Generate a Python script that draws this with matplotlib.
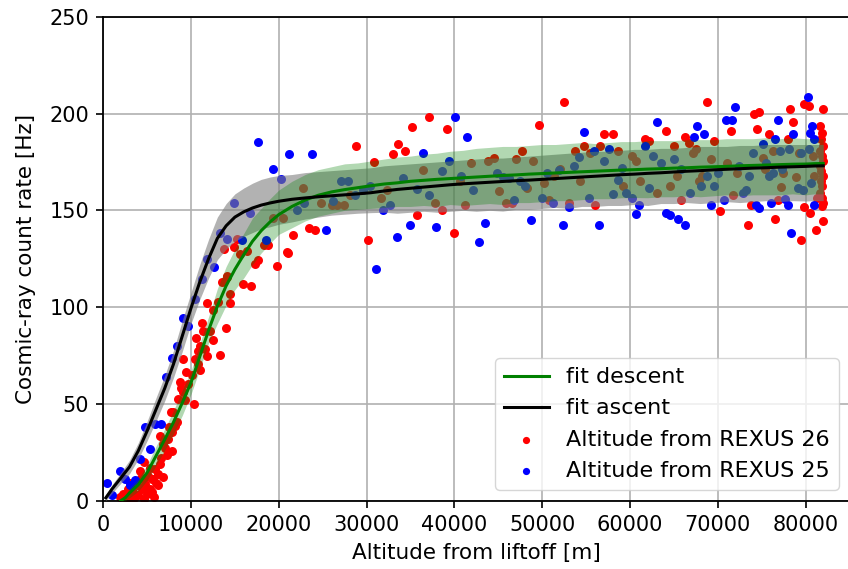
import matplotlib
matplotlib.use("Agg")
import matplotlib.pyplot as plt
import numpy as np

# ---------------- data ----------------
# REXUS 26 (red) points: altitude [m], count rate [Hz]
r26_x = [8760, 9710, 7700, 10390, 8380, 7810, 6480, 6860, 7810, 7250, 6480, 5920, 6290, 5720,
         6290, 5350, 4590, 4210, 3830, 3450, 2880, 2310, 1930, 4020, 3070, 4970, 5530, 4590,
         5150, 4400, 8570, 9140, 8190, 7430, 2600, 3300, 3700, 4800, 5600, 6000, 6600, 7000,
         5300, 4300, 3000, 2700, 7500, 8000, 6800, 5800, 4600, 3500, 9300, 8900,
         20900, 19830, 17670, 17290, 15590, 16350, 14070, 13500, 15960, 16800, 14450, 11870,
         13120, 12550, 14450, 11230, 12170, 13990, 11410, 10580, 12550, 11030, 11600, 10850,
         13310, 11800, 10470, 10850, 9140, 11030, 9440, 10090, 14140, 21010,
         28780, 22790, 19300, 20440, 23470, 24120, 21650, 15210, 14900, 13760, 18350, 18730,
         24760, 26010, 26580, 27420, 30180, 28100,
         33600, 32950, 30870, 31590, 32270,
         34360, 35120, 37120, 39210, 36440, 37770, 38530, 35760, 39930, 40610, 41180, 41860,
         43830, 44520, 45080, 45850, 46610, 46980, 47700, 48320, 48950, 49600, 50170, 50770,
         51340, 52000, 52480, 53010, 53770, 54340, 54760, 55400, 55970, 56540, 57030, 58050,
         58620, 59190, 60260, 60710,
         73410, 76560, 79480, 81190, 81950,
         61660, 62150, 61170, 63060, 64050, 64580, 64960, 65380, 65830, 66210, 66700, 67150,
         67540, 67910, 68220, 68750, 69170, 69510, 70300, 71070, 71520, 71780, 72200, 73800,
         74090, 74740, 74430, 75190, 75390, 75800, 76250, 76820, 77210, 77470, 77960, 78230,
         78530, 78910, 79290, 79860, 79780, 80430, 80510, 81950, 81870, 81260, 80810, 81000,
         81600, 81900, 81700, 82000, 81650, 81850, 81950, 81600, 81800, 82000, 81700, 81900,
         81650, 81850, 82000]
r26_y = [61.2, 60.3, 45.7, 50.0, 40.6, 35.4, 33.4, 29.4, 25.9, 23.4, 19.1, 16.5, 13.9, 11.3,
         7.9, 6.2, 11.3, 15.6, 7.9, 4.5, 6.2, 3.6, 1.9, 2.7, 1.9, 3.6, 11.3, 20.0,
         13.0, 6.2, 52.6, 56.0, 38.8, 32.0, 1.0, 2.5, 9.5, 8.5, 4.5, 9.0, 22.0, 27.0,
         17.0, 11.5, 9.0, 2.0, 38.0, 46.0, 12.5, 2.0, 1.0, 1.2, 52.0, 58.0,
         128.5, 121.0, 124.4, 122.2, 127.3, 129.0, 115.8, 113.1, 111.9, 110.7, 106.7, 102.1,
         102.4, 98.6, 102.1, 91.8, 87.8, 89.0, 87.8, 83.9, 83.2, 79.7, 78.4, 77.5,
         75.3, 74.9, 73.2, 70.6, 73.2, 67.7, 66.3, 65.0, 116.0, 128.2,
         183.2, 161.4, 145.9, 145.9, 141.1, 139.9, 137.1, 135.1, 130.8, 129.9, 132.0, 132.0,
         154.0, 152.6, 152.6, 152.6, 134.7, 157.7,
         184.4, 179.2, 175.1, 156.2, 160.5,
         180.6, 193.2, 198.3, 191.8, 170.6, 154.0, 150.0, 147.4, 138.5, 165.1, 152.6, 174.2,
         175.4, 176.8, 160.0, 154.0, 153.6, 176.7, 180.6, 161.4, 175.4, 194.3, 164.3, 155.3,
         167.7, 171.5, 205.8, 154.0, 180.6, 165.1, 183.2, 179.4, 152.6, 183.2, 189.5, 189.5,
         180.6, 162.5, 178.0, 175.4,
         142.3, 145.4, 134.7, 139.7, 144.5,
         187.0, 185.7, 165.1, 159.1, 190.9, 162.5, 183.2, 167.7, 155.3, 188.0, 184.9, 179.4,
         181.5, 165.1, 167.7, 205.8, 176.7, 185.7, 149.7, 174.6, 190.9, 157.7, 169.1, 152.6,
         199.9, 200.9, 191.8, 176.8, 171.5, 189.5, 180.6, 155.2, 162.0, 169.4, 187.0, 202.1,
         195.7, 167.2, 179.8, 151.7, 204.7, 203.8, 148.8, 202.1, 152.2, 156.6, 178.0, 167.7,
         193.5, 190.0, 186.6, 183.2, 180.6, 178.0, 175.4, 172.9, 170.3, 167.7, 165.1, 162.5,
         159.1, 156.6, 154.0]

# REXUS 25 (blue) points
r25_x = [420, 990, 1930, 2500, 3070, 3640, 4210, 5350, 4780, 5920, 6600, 7170, 7810, 8380,
         9710, 9060, 10470, 11230, 11800, 12630, 31060,
         17600, 21160, 23740, 19370, 20250, 14940, 16720, 13310, 14140, 15780, 18510, 22030,
         22900, 25370, 26200, 27040, 27910, 28670, 29540, 30370, 31890, 32650,
         33410, 34920, 37880, 40040, 41440, 36440, 34160, 35690, 37120, 38600, 39360, 40730,
         42130, 43490, 42810, 44860, 45540, 46220, 47440, 48080, 46800, 48770, 50020, 50590,
         51230, 51880, 52370, 53010, 53620, 54190, 54760, 55320, 55890, 56430, 56990, 57560,
         58060, 58620, 59120, 59570, 60210, 60710, 61010,
         65450, 66210, 78340,
         61660, 62150, 62600, 63100, 63560, 64050, 64500, 64960, 65830, 66780, 67270, 67650,
         68030, 68400, 68790, 69240, 69540, 70000, 70680, 70950, 71630, 72010, 72380, 72840,
         73230, 73600, 74060, 74370, 74740, 75120, 75500, 75880, 76070, 76330, 76530, 76820,
         77090, 77320, 77700, 77960, 78150, 78530, 79100, 79480, 79740, 80240, 80350, 80540,
         80730, 80920, 80620, 81000]
r25_y = [9.1, 2.7, 15.6, 11.3, 7.9, 10.8, 21.6, 26.8, 38.3, 39.7, 39.7, 63.8, 73.7, 80.0,
         90.4, 94.2, 104.1, 114.4, 124.7, 120.8, 119.6,
         185.4, 179.2, 179.2, 171.5, 166.3, 154.0, 148.5, 138.5, 135.1, 134.7, 134.7, 150.0,
         154.0, 139.9, 154.8, 165.1, 165.1, 157.7, 160.5, 162.5, 150.0, 152.7,
         136.2, 142.4, 141.2, 198.3, 188.0, 179.4, 166.7, 161.2, 157.7, 170.5, 175.4, 167.7,
         160.3, 143.7, 133.5, 169.2, 167.4, 166.9, 165.1, 162.5, 155.3, 145.0, 156.2, 169.2,
         153.8, 170.8, 142.4, 151.7, 172.9, 177.7, 190.6, 156.4, 180.4, 142.3, 175.4, 181.8,
         158.6, 165.5, 172.0, 159.1, 156.6, 148.0, 152.7,
         145.4, 142.3, 138.5,
         183.2, 161.7, 178.0, 195.7, 174.6, 148.8, 147.4, 176.7, 171.5, 159.1, 188.0, 193.5,
         162.5, 189.5, 167.7, 152.6, 162.5, 169.4, 155.2, 196.9, 196.9, 203.5, 172.9, 159.1,
         160.3, 167.7, 179.4, 152.6, 151.4, 184.5, 174.6, 167.7, 154.0, 169.1, 187.0, 196.9,
         180.6, 171.5, 155.7, 152.6, 181.8, 189.5, 161.7, 179.8, 160.3, 208.6, 181.8, 189.7,
         193.5, 186.6, 163.9, 152.6]

# ascent fit and its band
asc_x = [300, 1000, 2000, 3000, 4000, 5000, 6000, 7000, 8000, 9000, 10000, 11000, 12000,
         13000, 14000, 15000, 16000, 17000, 18000, 19000, 20000, 21500, 23000, 24500, 26000,
         27500, 29000, 30500, 32000, 33500, 35000, 36500, 38000, 39500, 41000, 42500, 44000,
         45500, 47000, 48500, 50000, 51500, 53000, 54500, 56000, 57500, 59000, 60500, 62000,
         63500, 65000, 66500, 68000, 69500, 71000, 72500, 74000, 75500, 77000, 78500, 80000,
         81000, 82000]
asc_fit = [1.5, 6, 11.7, 17.5, 25.8, 36, 47, 58, 70.5, 85, 99.5, 113, 125,
           135.5, 142, 146.5, 149.2, 151.2, 152.7, 153.8, 154.7, 155.7, 156.4, 157, 157.5,
           158, 158.5, 159.1, 160, 160.8, 161.4, 162, 162.6, 163.2, 163.7, 164.1, 164.5,
           164.9, 165.3, 165.6, 166, 166.4, 166.8, 167.2, 167.6, 168, 168.4, 168.7, 169.1,
           169.4, 169.8, 170.2, 170.5, 170.9, 171.2, 171.5, 171.8, 172, 172.3, 172.5, 172.7,
           172.9, 173]
asc_lo = [0, 3.8, 9, 14, 21.5, 31, 41, 51.5, 63.5, 77, 91.5, 104, 115,
          124.5, 130, 134, 136.5, 138.5, 140.5, 141.5, 142.8, 144, 145.5, 146.5, 147.5,
          148, 148.5, 148.8, 149, 148.5, 149, 149.5, 149, 149.5, 150, 149.5, 150,
          149.6, 150.5, 150.5, 151, 151.5, 151, 152, 152, 152.5, 152.5, 153, 152.5,
          153.5, 153.5, 154, 153.5, 154, 154.5, 154, 154.5, 155, 154.5, 155, 154.8,
          155, 155]
asc_hi = [3, 8.2, 14.4, 21, 30, 41, 53, 64.5, 77.5, 93, 107.5, 122, 135,
          146.5, 153.5, 158.5, 161.5, 164, 166, 167.2, 168, 168.5, 169.5, 170, 170.5,
          171, 171.5, 172, 173, 173.5, 174, 174.5, 175, 175.5, 176, 176.5, 177,
          177, 177.5, 178, 178.5, 179, 179.5, 180, 180.5, 180.5, 181, 181.5, 181.5,
          182, 182, 182.5, 183, 183, 183, 183.5, 183.5, 184, 184, 184, 184,
          184, 184]

# descent fit and its band
des_x = [2000, 2500, 3000, 4000, 5000, 6000, 7000, 8000, 9000, 10000, 11000, 12000, 13000,
         14000, 15000, 16000, 17000, 18000, 19000, 20000, 21500, 23000, 24500, 26000, 27500,
         29000, 30500, 32000, 33500, 35000, 36500, 38000, 39500, 41000, 42500, 44000, 45500,
         47000, 48500, 50000, 51500, 53000, 54500, 56000, 57500, 59000, 60500, 62000, 63500,
         65000, 66500, 68000, 69500, 71000, 72500, 74000, 75500, 77000, 78500, 80000, 81000,
         82000]
des_fit = [0, 1.5, 4, 8.3, 14.5, 23, 31.6, 40.5, 50.5, 61, 74.5, 88, 100.5,
           111, 119.5, 127, 134, 139.5, 144, 147.8, 152, 155.3, 157.8, 159.5, 160.7,
           161.7, 162.7, 163.6, 164.2, 165, 165.5, 166, 166.4, 166.8, 167.2, 167.6, 168,
           168.3, 168.7, 169, 169.3, 169.6, 169.9, 170.2, 170.5, 170.8, 171, 171.3, 171.5,
           171.8, 172, 172.3, 172.5, 172.7, 173, 173.2, 173.4, 173.6, 173.8, 173.9, 174.1,
           174.2]
des_lo = [0, 0, 1.5, 5, 10.5, 18, 26, 34.5, 44, 55, 68, 81.5, 91.5,
          101, 109, 115, 122, 128, 133, 137.6, 141, 144.5, 147, 148.5, 150,
          150.5, 151, 151.5, 152, 152, 152.5, 152, 153, 152.5, 153, 153.5, 153,
          154, 154, 154.5, 155, 155, 155.5, 156, 156, 156.5, 156.6, 156.5, 157,
          157, 157.5, 157, 157.5, 158, 157.5, 158, 158, 158, 158.5, 158, 158.5,
          158.5]
des_hi = [1, 3, 6.5, 11.5, 18.5, 28, 37, 46.5, 57, 67, 81, 95, 109.5,
          121, 130, 138, 146, 151, 156, 160.5, 165, 168.5, 171, 172.5, 174,
          174.5, 175.5, 176.5, 177.5, 178, 179, 179.5, 180.5, 181, 182, 182.5, 183,
          183, 183.5, 184, 184, 184.5, 185, 184.5, 185, 185.5, 185.5, 186, 186,
          186, 186.5, 186.5, 186.5, 187, 187, 187, 187.5, 187, 187.5, 187, 187,
          187]

x_ticks = [0, 10000, 20000, 30000, 40000, 50000, 60000, 70000, 80000]
y_ticks = [0, 50, 100, 150, 200, 250]

# ---------------- figure ----------------
fig = plt.figure(figsize=(8.48, 5.69), dpi=100)
ax = fig.add_axes([0.1217, 0.12, 0.8807, 0.8506])

sc26 = ax.scatter(r26_x, r26_y, s=42, color='red', linewidths=0, label='Altitude from REXUS 26', zorder=2)
sc25 = ax.scatter(r25_x, r25_y, s=42, color='blue', linewidths=0, label='Altitude from REXUS 25', zorder=2)

ax.fill_between(asc_x, asc_lo, asc_hi, color='gray', alpha=0.6, linewidth=0, zorder=3)
ax.fill_between(des_x, des_lo, des_hi, color='green', alpha=0.3, linewidth=0, zorder=3)

ld, = ax.plot(des_x, des_fit, color='green', lw=2.2, label='fit descent', zorder=4)
la, = ax.plot(asc_x, asc_fit, color='black', lw=2.2, label='fit ascent', zorder=4)

ax.set_xlim(0, 85057)
ax.set_ylim(0, 250)
ax.set_xticks(x_ticks)
ax.set_yticks(y_ticks)
ax.tick_params(labelsize=15, width=1.2, length=5, pad=5)
for sp in ax.spines.values():
    sp.set_linewidth(1.3)
ax.grid(True, color='#b0b0b0', lw=1.2)
ax.set_axisbelow(True)

ax.set_xlabel('Altitude from liftoff [m]', fontsize=15.5, labelpad=6)
ax.set_ylabel('Cosmic-ray count rate [Hz]', fontsize=15.5, labelpad=10)

ax.legend(handles=[ld, la, sc26, sc25], loc='lower right', fontsize=16,
          scatterpoints=1, markerscale=0.8)

fig.savefig('out.png', dpi=100)
